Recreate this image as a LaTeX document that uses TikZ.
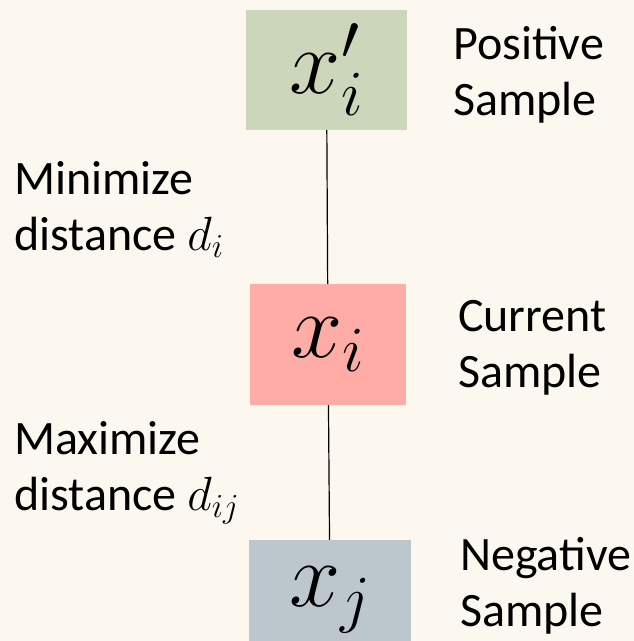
\RequirePackage{fix-cm}
\documentclass[tikz,border=0pt]{standalone}
\usepackage{fontspec}
\setmainfont{Carlito}
\usetikzlibrary{positioning}

\definecolor{bgcream}{HTML}{FDF8EF}
\definecolor{posgreen}{HTML}{CCD6BA}
\definecolor{curred}{HTML}{FFABA6}
\definecolor{neggray}{HTML}{BCC7CD}

\tikzset{
  sample/.style={minimum width=160pt, minimum height=120pt, inner sep=0pt,
    font=\fontsize{92}{92}\selectfont},
  caption/.style={align=left, inner sep=0pt, anchor=north west,
    font=\fontsize{48}{56}\selectfont}
}

\begin{document}
\begin{tikzpicture}[x=1pt, y=-1pt]
    % background
    \fill[bgcream] (0,0) rectangle (634,641);
    \clip (0,0) rectangle (634,641);

    % sample boxes
    \node[sample, fill=posgreen, minimum width=161pt] (pos) at (326.5,70) {$x'_i$};
    \node[sample, fill=curred, minimum width=156pt, minimum height=121pt] (cur) at (328,344.5) {$x_i$};
    \node[sample, fill=neggray, minimum width=162pt] (neg) at (330,600) {$x_j$};

    % sample names
    \node[caption] (posname) at (453,26) {Positive\\Sample};
    \node[caption] (curname) at (458,300) {Current\\Sample};
    \node[caption] (negname) at (460,537) {Negative\\Sample};

    % distances
    \node[caption] (mindist) at (14,161) {Minimize\\distance $d_i$};
    \node[caption] (maxdist) at (14,421) {Maximize\\distance $d_{ij}$};

    % links
    \draw[line width=1.2pt] (pos) -- (cur);
    \draw[line width=1.2pt] (cur) -- (neg);
\end{tikzpicture}
\end{document}
